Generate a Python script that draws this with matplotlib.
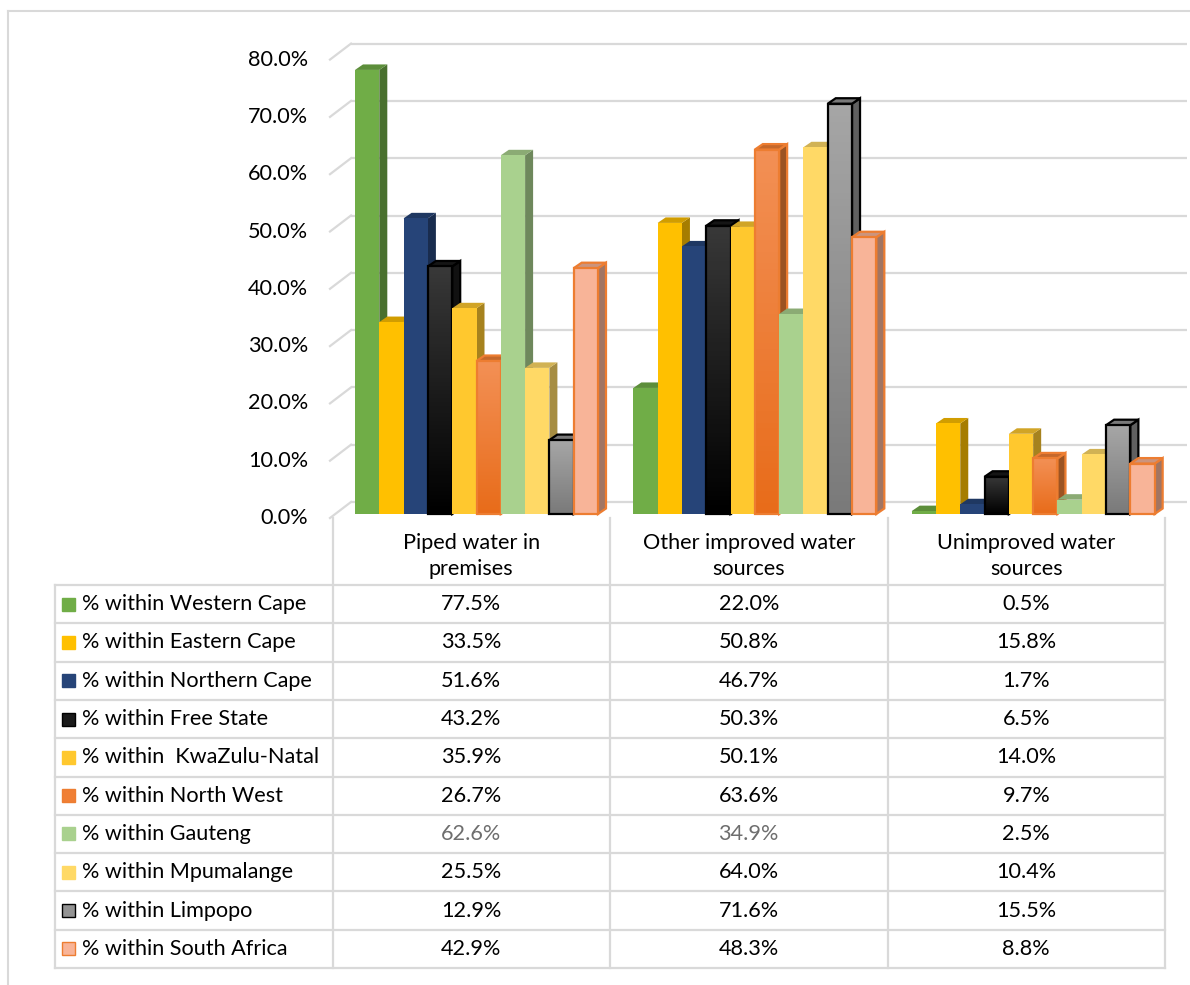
import numpy as np
import matplotlib.pyplot as plt
from matplotlib.patches import Polygon, Rectangle
from matplotlib.lines import Line2D
import matplotlib.colors as mcolors

plt.rcParams['font.family'] = ['Lato', 'DejaVu Sans']

# --- data ---
categories = ["Piped water in\npremises", "Other improved water\nsources", "Unimproved water\nsources"]
regions = ["% within Western Cape", "% within Eastern Cape", "% within Northern Cape",
           "% within Free State", "% within  KwaZulu-Natal", "% within North West",
           "% within Gauteng", "% within Mpumalange", "% within Limpopo",
           "% within South Africa"]
piped = [77.5, 33.5, 51.6, 43.2, 35.9, 26.7, 62.6, 25.5, 12.9, 42.9]
other = [22.0, 50.8, 46.7, 50.3, 50.1, 63.6, 34.9, 64.0, 71.6, 48.3]
unimproved = [0.5, 15.8, 1.7, 6.5, 14.0, 9.7, 2.5, 10.4, 15.5, 8.8]
yticks = [0, 10, 20, 30, 40, 50, 60, 70, 80]

colors = ["#70AD47", "#FFC000", "#264478", "#1A1A1A", "#FFC82E",
          "#F07F35", "#A9D18E", "#FFD966", "#939393", "#F8B498"]
edges = [None, None, None, "#000000", None, "#ED7D31", None, None, "#000000", "#ED7D31"]
gradients = {3: ("#383838", "#000000"), 5: ("#F39055", "#E86C1A"), 8: ("#A6A6A6", "#7A7A7A")}

FS = 15.6
W, H = 1190, 985
fig = plt.figure(figsize=(W / 100, H / 100), dpi=100)

# frame of the picture (left and top lines only)
fig.add_artist(Line2D([8 / W, 8 / W], [0, 1 - 11 / H], color="#D9D9D9", lw=1.5))
fig.add_artist(Line2D([8 / W, 1], [1 - 11 / H, 1 - 11 / H], color="#D9D9D9", lw=1.5))

# --- chart axes: x = category index, y = percent ---
px_x = 835 / 3          # pixels per category
px_y = 5.73             # pixels per percent
ax = fig.add_axes([330 / W, 1 - 514 / H, 835 / W, 80 * px_y / H])
ax.set_xlim(0, 3)
ax.set_ylim(0, 80)
ax.axis("off")

back_dx0 = 21 / px_x
back_x1 = 3 + 22 / px_x
back_dy = 12 / px_y
front_dy = -4 / px_y
for v in yticks:
    ax.plot([back_dx0, back_x1], [v + back_dy, v + back_dy], color="#D9D9D9", lw=1.6,
            clip_on=False, zorder=1, solid_capstyle="butt")
    ax.plot([0, back_dx0], [v + front_dy, v + back_dy], color="#D9D9D9", lw=1.6,
            clip_on=False, zorder=1)
    ax.text(-22 / 835, v + front_dy, f"{v:.1f}%", transform=ax.get_yaxis_transform(),
            ha="right", va="center", fontsize=FS, color="#000000")

bw = 24.3 / px_x
start = 25 / px_x
ddx = 8 / px_x
ddy = 5.5 / px_y


def shade(c, f):
    r, g, b = mcolors.to_rgb(c)
    return (r * f, g * f, b * f)


def draw_bar(x0, h, k, z):
    col = colors[k]
    ec = edges[k]
    lw = 1.6 if ec else 0
    side = Polygon([(x0 + bw, 0), (x0 + bw + ddx, ddy), (x0 + bw + ddx, h + ddy), (x0 + bw, h)],
                   closed=True, facecolor=shade(col, 0.65), edgecolor=ec or "none", lw=lw,
                   zorder=z, clip_on=False)
    top = Polygon([(x0, h), (x0 + ddx, h + ddy), (x0 + bw + ddx, h + ddy), (x0 + bw, h)],
                  closed=True, facecolor=shade(col, 0.82), edgecolor=ec or "none", lw=lw,
                  zorder=z, clip_on=False)
    ax.add_patch(side)
    ax.add_patch(top)
    bar = ax.bar(x0, h, width=bw, align="edge", color=col, edgecolor=ec or "none",
                 lw=lw, zorder=z + 0.1, clip_on=False)[0]
    if k in gradients:
        c1, c2 = gradients[k]
        cmap = mcolors.LinearSegmentedColormap.from_list("g", [c2, c1])
        grad = np.linspace(0, 1, 64).reshape(-1, 1)
        im = ax.imshow(grad, cmap=cmap, extent=(x0, x0 + bw, 0, h), origin="lower",
                       aspect="auto", zorder=z + 0.05, clip_on=True)
        im.set_clip_path(bar)
        bar.set_facecolor("none")


series = [piped, other, unimproved]
for g, vals in enumerate(series):
    for k, h in enumerate(vals):
        draw_bar(g + start + k * bw, h, k, 3 + g * 12 + k)
ax.set_xlim(0, 3)
ax.set_ylim(0, 80)

# --- data table ---
row_h = 38.3
tab = fig.add_axes([55 / W, 1 - 968 / H, 1110 / W, 450 / H])
tab.set_xlim(-1, 3)
tab.set_ylim(10, -1.75)
tab.axis("off")
lc = "#D9D9D9"
for xv in [0, 1, 2, 3]:
    tab.plot([xv, xv], [-1.75, 10], color=lc, lw=1.6, clip_on=False)
tab.plot([-1, -1], [0, 10], color=lc, lw=1.6, clip_on=False)
for r in range(11):
    tab.plot([-1, 3], [r, r], color=lc, lw=1.6, clip_on=False)

for c, name in enumerate(categories):
    tab.text(c + 0.5, -0.76, name, ha="center", va="center", fontsize=FS,
             linespacing=1.4)

for k, name in enumerate(regions):
    tab.add_patch(Rectangle((-1 + 7 / 277.5, k + 0.5 - 6.5 / row_h), 13 / 277.5, 13 / row_h,
                            facecolor=colors[k], edgecolor=edges[k] or colors[k], lw=1.0))
    tab.text(-1 + 27 / 277.5, k + 0.5, name, ha="left", va="center", fontsize=FS)
    for c, vals in enumerate(series):
        tcol = "#6E6E6E" if (k == 6 and c < 2) else "#000000"
        tab.text(c + 0.5, k + 0.5, f"{vals[k]:.1f}%", ha="center", va="center",
                 fontsize=FS, color=tcol)

fig.savefig("out.png", dpi=100)
